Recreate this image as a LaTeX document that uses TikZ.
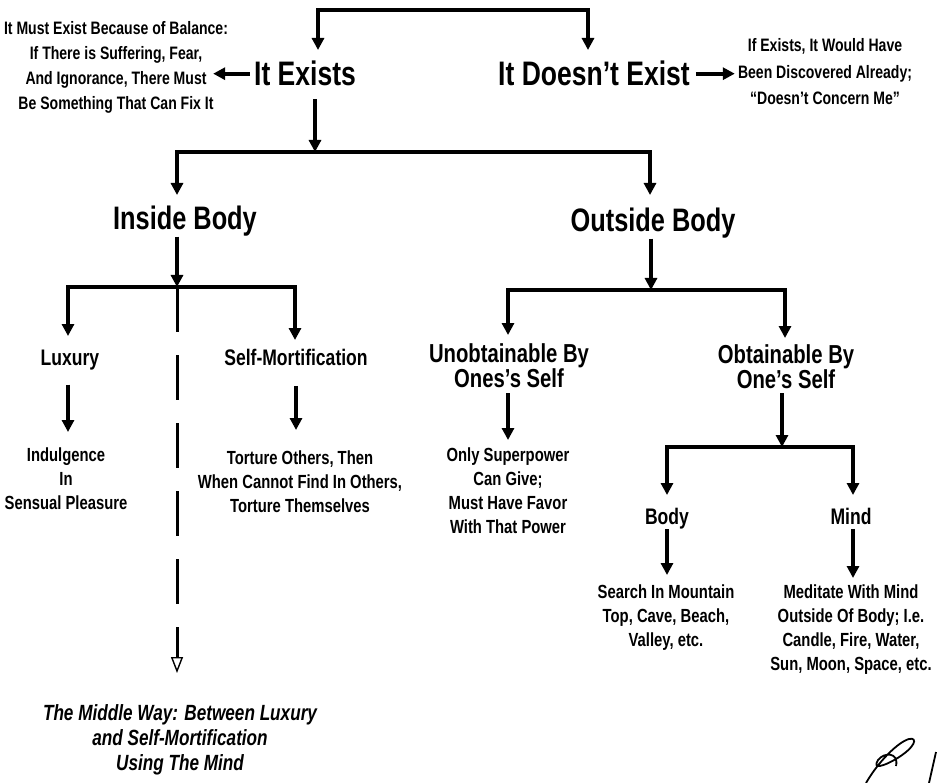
\documentclass[tikz,border=0pt]{standalone}
\usepackage{fontspec}
\setmainfont{Liberation Sans}[FakeStretch=0.78]
\usetikzlibrary{arrows.meta}
\tikzset{arr/.style = {line width=4pt, -{Triangle[width=12pt,length=12pt]}}}
\tikzset{fork/.style = {line width=4.5pt, {Triangle[width=12pt,length=12pt]}-{Triangle[width=12pt,length=12pt]}}}
\tikzset{middlearr/.style = {line width=3pt, dash pattern=on 45pt off 23pt,
                             -{Triangle[open,width=12pt,length=16pt,line width=1.4pt]}}}
\tikzset{txt/.style = {inner sep=0, align=center, anchor=north}}
\tikzset{topic/.style = {txt, font=\bfseries\fontsize{34}{36}\selectfont}}
\tikzset{head/.style = {txt, font=\bfseries\fontsize{32.5}{34}\selectfont}}
\tikzset{choice/.style = {txt, font=\bfseries\fontsize{26}{25}\selectfont}}
\tikzset{branch/.style = {txt, font=\bfseries\fontsize{22.5}{25}\selectfont}}
\tikzset{leaf/.style = {txt, font=\bfseries\fontsize{19}{24}\selectfont}}
\tikzset{side/.style = {txt, font=\bfseries\fontsize{18}{25}\selectfont}}
\tikzset{way/.style = {txt, font=\bfseries\itshape\fontsize{22}{25}\selectfont}}

\begin{document}
\begin{tikzpicture}[x=1pt, y=-1pt]
  \useasboundingbox (0,0) rectangle (944,783);

  \node [topic] (exists) at (305,61) {It Exists};
  \node [topic] (notexist) at (594,61) {It Doesn't Exist};
  \node [side] (because) at (116,21.5) {It Must Exist Because of Balance:\\If There is Suffering, Fear,\\And Ignorance, There Must\\Be Something That Can Fix It};
  \node [side, font=\bfseries\fontsize{18}{26.5}\selectfont] (discovered) at (825,38.5) {If Exists, It Would Have\\Been Discovered Already;\\``Doesn't Concern Me''};

  \node [head] (inside) at (185,206) {Inside Body};
  \node [head] (outside) at (653,208) {Outside Body};

  \node [branch] (luxury) at (70,350) {Luxury};
  \node [branch] (selfmort) at (296,349) {Self-Mortification};
  \node [leaf] (indulge) at (66,448) {Indulgence\\In\\Sensual Pleasure};
  \node [leaf] (torture) at (300,451) {Torture Others, Then\\When Cannot Find In Others,\\Torture Themselves};
  \node [way] (middle) at (180,704) {The Middle Way: Between Luxury\\and Self-Mortification\\Using The Mind};

  \node [choice] (unobt) at (509,343) {Unobtainable By\\Ones's Self};
  \node [choice] (obt) at (786,344) {Obtainable By\\One's Self};
  \node [leaf] (power) at (508,448) {Only Superpower\\Can Give;\\Must Have Favor\\With That Power};

  \node [branch] (body) at (667,508) {Body};
  \node [branch] (mind) at (851,508) {Mind};
  \node [leaf] (search) at (666,585) {Search In Mountain\\Top, Cave, Beach,\\Valley, etc.};
  \node [leaf] (meditate) at (851,585) {Meditate With Mind\\Outside Of Body; I.e.\\Candle, Fire, Water,\\Sun, Moon, Space, etc.};

  % fork corners
  \coordinate (tl) at (318,10);
  \coordinate (tr) at (588,10);
  \coordinate (bm) at (315,152);
  \coordinate (bl) at (177,152);
  \coordinate (br) at (650,152);
  \coordinate (im) at (177,287);
  \coordinate (il) at (68,287);
  \coordinate (ir) at (295,287);
  \coordinate (om) at (651,290);
  \coordinate (ol) at (508,290);
  \coordinate (or) at (785,290);
  \coordinate (sm) at (782,447);
  \coordinate (sl) at (667,447);
  \coordinate (sr) at (853,447);

  \draw [fork] ([yshift=11pt]tl |- exists.north) -- (tl) -- (tr) -- ([yshift=11pt]tr |- notexist.north);
  \draw [arr] ([xshift=-4pt]exists.west) -- ([xshift=-15pt]exists.west -| because.east);
  \draw [arr] ([xshift=6pt]notexist.east) -- ([xshift=-3pt]notexist.east -| discovered.west);

  \draw [arr] ([yshift=-13pt]bm |- exists.south) -- (bm);
  \draw [fork] ([yshift=11pt]bl |- inside.north) -- (bl) -- (br) -- ([yshift=13pt]br |- outside.north);

  \draw [arr] (im |- inside.south) -- (im);
  \draw [fork] ([yshift=14pt]il |- luxury.north) -- (il) -- (ir) -- ([yshift=9pt]ir |- selfmort.north);
  \draw [middlearr] (im) -- ([yshift=31pt]im |- middle.north);
  \draw [arr] ([yshift=-14pt]il |- luxury.south) -- ([yshift=16pt]il |- indulge.north);
  \draw [arr] ([yshift=-20pt]selfmort.south) -- ([yshift=21pt]selfmort.south |- torture.north);

  \draw [arr] (om |- outside.south) -- (om);
  \draw [fork] ([yshift=8pt]ol |- unobt.north) -- (ol) -- (or) -- ([yshift=6pt]or |- obt.north);
  \draw [arr] ([yshift=-6pt]ol |- unobt.south) -- ([yshift=8pt]ol |- power.north);
  \draw [arr] ([yshift=-5pt]sm |- obt.south) -- (sm);
  \draw [fork] ([yshift=13pt]sl |- body.north) -- (sl) -- (sr) -- ([yshift=13pt]sr |- mind.north);
  \draw [arr] (sl |- body.south) -- ([yshift=10pt]sl |- search.north);
  \draw [arr] ([yshift=-4pt]sr |- mind.south) -- ([yshift=7pt]sr |- meditate.north);

  % signature
  \draw [line width=1.8pt] (866,783) .. controls (878,762) and (898,742) .. (909,739)
        .. controls (918,737) and (916,747) .. (896,759)
        .. controls (884,766) and (872,770) .. (878,760)
        .. controls (884,752) and (899,752) .. (896,766);
  \draw [line width=1.8pt] (936,752) -- (929,783);
\end{tikzpicture}
\end{document}
